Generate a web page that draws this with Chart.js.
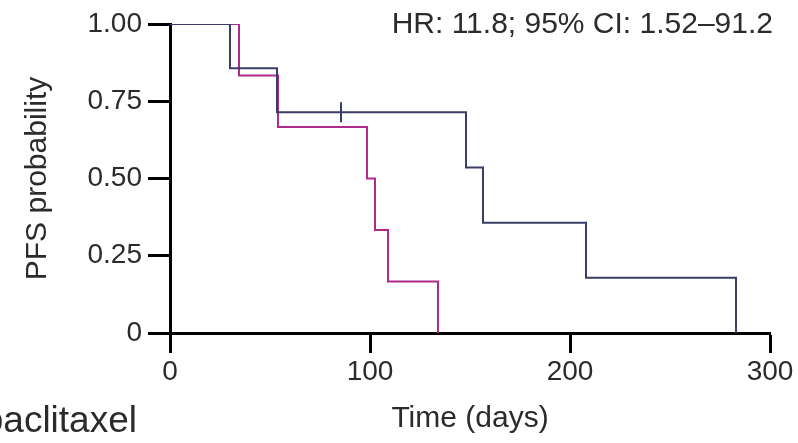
<!DOCTYPE html>
<html>
<head>
<meta charset="utf-8">
<script src="https://cdn.jsdelivr.net/npm/chart.js@4.4.1/dist/chart.umd.min.js"></script>
<style>
  html, body { margin: 0; padding: 0; background: #fff; }
  #wrap { position: relative; width: 798px; height: 443px; }
</style>
</head>
<body>
<div id="wrap"><canvas id="kmChart" width="798" height="443"></canvas></div>
<script>
// KM steps (days, survival probability)
var navyDays = [0, 30, 53.5, 148, 156.5, 208, 283];
var navyProb = [1, 0.857, 0.714, 0.536, 0.357, 0.179, 0];
var navyCensorDays = [85.5];
var navyCensorProb = [0.714];

var magentaDays = [0, 34.5, 54, 98.5, 102.5, 109, 134];
var magentaProb = [1, 0.833, 0.667, 0.5, 0.333, 0.167, 0];

var xTicks = [0, 100, 200, 300];
var yTicks = [0, 0.25, 0.5, 0.75, 1];
var yTickLabels = ['0', '0.25', '0.50', '0.75', '1.00'];

var hrText = 'HR: 11.8; 95% CI: 1.52\u201391.2';
var legendText = 'paclitaxel';

var navy = '#3a3d66';
var magenta = '#b02a8e';
var textColor = '#2b2b2b';
var fontFamily = '"Liberation Sans", Arial, Helvetica, sans-serif';

function toPoints(xs, ys) {
    return xs.map(function (x, i) { return { x: x, y: ys[i] }; });
}

var extraText = {
    id: 'extraText',
    afterDraw: function (chart) {
        var ctx = chart.ctx;
        ctx.save();
        ctx.fillStyle = textColor;
        ctx.textBaseline = 'alphabetic';
        ctx.font = '30px ' + fontFamily;
        ctx.textAlign = 'right';
        ctx.fillText(hrText, 773, 33);
        ctx.font = '37px ' + fontFamily;
        ctx.textAlign = 'right';
        ctx.fillText(legendText, 137, 432);
        ctx.restore();
    }
};

var ctx = document.getElementById('kmChart').getContext('2d');
var chart = new Chart(ctx, {
    type: 'line',
    data: {
        datasets: [
            {
                label: 'navy',
                data: toPoints(navyDays, navyProb),
                stepped: true,
                borderColor: navy,
                borderWidth: 2,
                pointRadius: 0,
                fill: false
            },
            {
                label: 'magenta',
                data: toPoints(magentaDays, magentaProb),
                stepped: true,
                borderColor: magenta,
                borderWidth: 2,
                pointRadius: 0,
                fill: false
            },
            {
                label: 'censor',
                data: toPoints(navyCensorDays, navyCensorProb),
                showLine: false,
                pointStyle: 'line',
                rotation: 90,
                pointRadius: 10,
                borderColor: navy,
                borderWidth: 2
            }
        ]
    },
    options: {
        responsive: false,
        animation: false,
        layout: { padding: { top: 24, right: 28, left: 0, bottom: 0 } },
        plugins: {
            legend: { display: false },
            tooltip: { enabled: false }
        },
        scales: {
            x: {
                type: 'linear',
                min: 0,
                max: 300,
                afterBuildTicks: function (axis) {
                    axis.ticks = xTicks.map(function (v) { return { value: v }; });
                },
                afterFit: function (axis) { axis.height = 110; },
                border: { display: true, color: '#000', width: 3 },
                grid: { drawOnChartArea: false, drawTicks: true, tickLength: 20, tickWidth: 3, tickColor: '#000' },
                ticks: { color: textColor, font: { family: fontFamily, size: 28 }, padding: 2, maxRotation: 0 },
                title: {
                    display: true,
                    text: 'Time (days)',
                    color: textColor,
                    font: { family: fontFamily, size: 30 },
                    padding: { top: 0, bottom: 6 }
                }
            },
            y: {
                type: 'linear',
                min: 0,
                max: 1,
                afterBuildTicks: function (axis) {
                    axis.ticks = yTicks.map(function (v) { return { value: v }; });
                },
                afterFit: function (axis) { axis.width = 170; },
                border: { display: true, color: '#000', width: 3 },
                grid: { drawOnChartArea: false, drawTicks: true, tickLength: 22, tickWidth: 3, tickColor: '#000' },
                ticks: {
                    color: textColor,
                    font: { family: fontFamily, size: 28 },
                    padding: 6,
                    callback: function (value) {
                        var i = yTicks.indexOf(value);
                        return i >= 0 ? yTickLabels[i] : '';
                    }
                },
                title: {
                    display: true,
                    text: 'PFS probability',
                    color: textColor,
                    font: { family: fontFamily, size: 30 },
                    padding: { top: 20, bottom: 0 }
                }
            }
        }
    },
    plugins: [extraText]
});
</script>
</body>
</html>
